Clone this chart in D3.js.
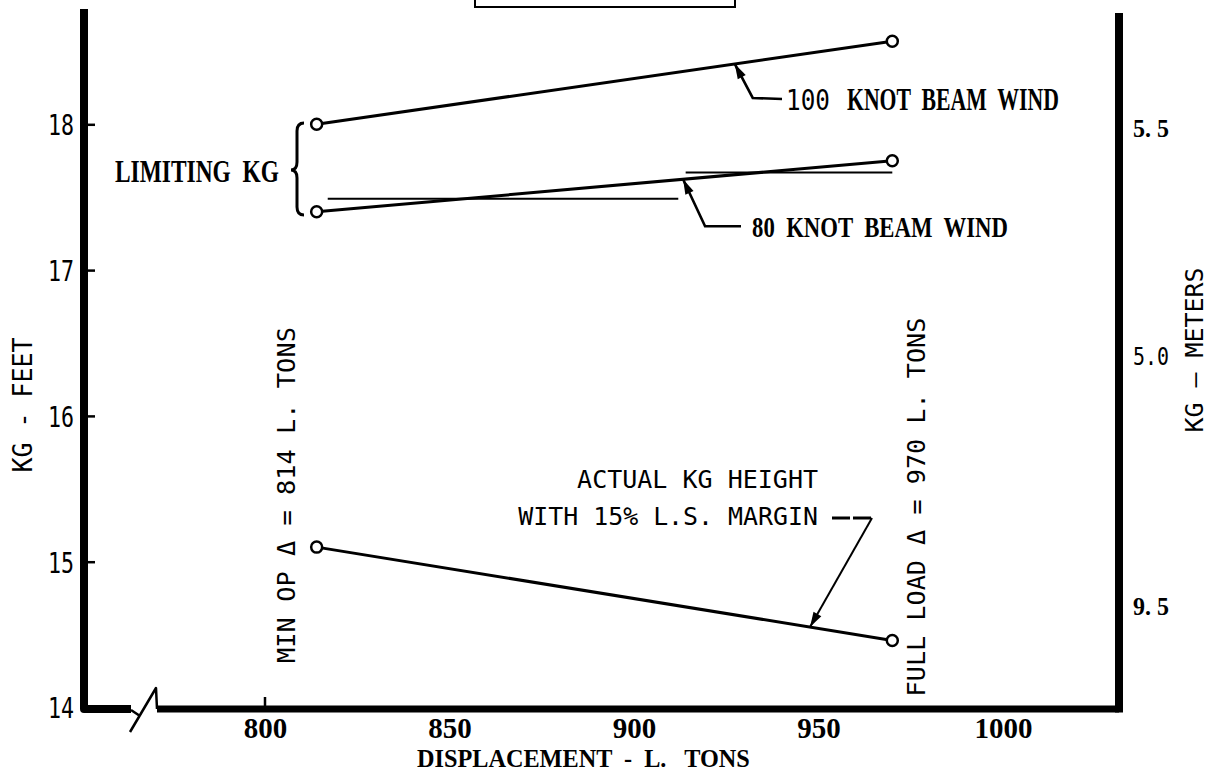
<!DOCTYPE html>
<html>
<head>
<meta charset="utf-8">
<script src="https://cdn.jsdelivr.net/npm/d3@7"></script>
<style>
  html, body { margin: 0; padding: 0; background: #fff; }
  svg { display: block; }
  text { fill: #000; }
</style>
</head>
<body>
<svg id="chart" width="1221" height="773"></svg>
<script>
// ---- values ----
const xTicks = [800, 850, 900, 950, 1000];
const xTickMarks = [800];
const yTicks = [14, 15, 16, 17, 18];
const meterTicks = [5.5, 5.0, 4.5];
const meterTickLabels = ["5. 5", "5.0", "9. 5"];

const displacement = [814, 970];          // L. tons
const kg100Knot = [18.0, 18.57];          // ft, limiting KG, 100 knot beam wind
const kg80Knot = [17.4, 17.75];           // ft, limiting KG, 80 knot beam wind
const kgActual = [15.1, 14.46];           // ft, actual KG with 15% L.S. margin

// thin level lines drawn under the 80 knot curve
const levelFrom = [817, 914];
const levelTo = [912, 970];
const levelKg = [17.49, 17.67];

// displacement where each leader arrow touches its curve
const leader100At = 927.3;
const leader80At = 913.3;
const leaderActualAt = 947.7;

const FT_PER_M = 3.2808;

// ---- layout ----
const frame = { left: 84, right: 1119, top: 9, rightTop: 13, bottom: 709 };
const MONO = "'DejaVu Sans Mono', 'Liberation Mono', monospace";
const SERIF = "'Liberation Serif', 'DejaVu Serif', serif";

const svg = d3.select("#chart");

const x = d3.scaleLinear().domain([800, 1000]).range([265, 1003]);
const y = d3.scaleLinear().domain([14, 18]).range([707.5, 124.3]);
const yM = d3.scaleLinear().domain([14 / FT_PER_M, 18 / FT_PER_M]).range(y.range());

// squeeze a text element horizontally to a given width (lettering is condensed)
function squeeze(node, len, base) {
  const w = node.getComputedTextLength();
  const sx = w > 0 ? len / w : 1;
  node.setAttribute("transform", `${base || ""} scale(${sx},1)`);
}

// title box, cut by the top edge
svg.append("rect")
  .attr("x", 475).attr("y", -20).attr("width", 260).attr("height", 27)
  .attr("fill", "none").attr("stroke", "#000").attr("stroke-width", 2);

// ---- left axis (feet) ----
const gLeft = svg.append("g")
  .attr("transform", `translate(${frame.left + 4},0)`)
  .call(d3.axisLeft(y).tickValues(yTicks).tickSize(-7).tickPadding(14).tickFormat(d3.format("d")));
gLeft.select(".domain").remove();
gLeft.selectAll(".tick line").attr("stroke", "#000").attr("stroke-width", 2.5);
gLeft.selectAll(".tick text")
  .attr("font-family", MONO).attr("font-size", 29)
  .attr("dy", "0.36em")
  .each(function () {
    const xx = +this.getAttribute("x");
    this.setAttribute("x", 0);
    squeeze(this, 26, `translate(${xx},0)`);
  });

// ---- bottom axis (displacement) ----
const gBottom = svg.append("g")
  .attr("transform", `translate(0,${frame.bottom})`)
  .call(d3.axisBottom(x).tickValues(xTicks).tickSize(0).tickFormat(d3.format("d")));
gBottom.select(".domain").remove();
gBottom.selectAll(".tick text")
  .attr("font-family", SERIF).attr("font-weight", "bold").attr("font-size", 29)
  .attr("y", 29).attr("dy", 0);

svg.selectAll(".xmark").data(xTickMarks).join("line")
  .attr("class", "xmark")
  .attr("x1", d => x(d)).attr("x2", d => x(d))
  .attr("y1", frame.bottom - 12).attr("y2", frame.bottom)
  .attr("stroke", "#000").attr("stroke-width", 2.5);

// ---- right axis (meters) ----
const gRight = svg.append("g")
  .attr("transform", `translate(${frame.right + 4},0)`)
  .call(d3.axisRight(yM).tickValues(meterTicks).tickSize(0).tickPadding(10)
    .tickFormat((d, i) => meterTickLabels[i]));
gRight.select(".domain").remove();
gRight.selectAll(".tick text")
  .attr("xml:space", "preserve")
  .attr("font-family", (d, i) => i === 1 ? MONO : SERIF)
  .attr("font-weight", (d, i) => i === 1 ? "normal" : "bold")
  .attr("font-size", (d, i) => i === 1 ? 24 : 26)
  .attr("dy", (d, i) => i === 1 ? "0.3em" : "0.72em")
  .each(function () {
    const xx = +this.getAttribute("x");
    this.setAttribute("x", 0);
    squeeze(this, 36, `translate(${xx},0)`);
  });

// ---- heavy frame ----
function frameLine(width, d) {
  return svg.append("path")
    .attr("d", d).attr("fill", "none").attr("stroke", "#000")
    .attr("stroke-width", width).attr("stroke-linejoin", "round");
}
frameLine(8, `M${frame.left},${frame.top} L${frame.left},${frame.bottom} L131,${frame.bottom}`);
frameLine(7, `M157,${frame.bottom} L${frame.right},${frame.bottom}`);
frameLine(8, `M${frame.right},${frame.rightTop} L${frame.right},${frame.bottom + 3.5}`);
// axis break
frameLine(2.5, `M131,${frame.bottom + 1} L140,716 M130,732 L156,688 L157,${frame.bottom}`);

// ---- level lines ----
svg.selectAll(".level").data(levelFrom).join("line")
  .attr("class", "level")
  .attr("x1", (d, i) => x(levelFrom[i])).attr("x2", (d, i) => x(levelTo[i]))
  .attr("y1", (d, i) => y(levelKg[i])).attr("y2", (d, i) => y(levelKg[i]))
  .attr("stroke", "#000").attr("stroke-width", 2);

// ---- curves ----
const seriesList = [kg100Knot, kg80Knot, kgActual];
const line = d3.line().x(d => x(d[0])).y(d => y(d[1]));
seriesList.forEach(vals => {
  const pts = displacement.map((d, i) => [d, vals[i]]);
  svg.append("path").datum(pts)
    .attr("d", line).attr("fill", "none")
    .attr("stroke", "#000").attr("stroke-width", 3);
  svg.selectAll(null).data(pts).join("circle")
    .attr("cx", d => x(d[0])).attr("cy", d => y(d[1])).attr("r", 5.5)
    .attr("fill", "#fff").attr("stroke", "#000").attr("stroke-width", 2.5);
});

function valueAt(vals, t) {
  const f = (t - displacement[0]) / (displacement[1] - displacement[0]);
  return vals[0] + f * (vals[1] - vals[0]);
}

function arrowHead(tip, from, len = 15, half = 4.5) {
  const dx = tip[0] - from[0], dy = tip[1] - from[1];
  const L = Math.hypot(dx, dy), ux = dx / L, uy = dy / L;
  const bx = tip[0] - ux * len, by = tip[1] - uy * len;
  svg.append("path")
    .attr("d", `M${tip[0]},${tip[1]} L${bx - uy * half},${by + ux * half} L${bx + uy * half},${by - ux * half} Z`)
    .attr("fill", "#000");
}

function leader(points, width) {
  svg.append("path")
    .attr("d", d3.line()(points))
    .attr("fill", "none").attr("stroke", "#000").attr("stroke-width", width)
    .attr("stroke-linejoin", "miter");
  arrowHead(points[0], points[1]);
}

// 100 knot leader
const t100 = [x(leader100At), y(valueAt(kg100Knot, leader100At))];
leader([t100, [t100[0] + 18, t100[1] + 34], [782, t100[1] + 35]], 2.6);

// 80 knot leader
const t80 = [x(leader80At), y(valueAt(kg80Knot, leader80At))];
leader([t80, [t80[0] + 22, t80[1] + 47], [741, t80[1] + 47]], 2.6);

// actual KG leader
const tAct = [x(leaderActualAt), y(valueAt(kgActual, leaderActualAt))];
leader([tAct, [872, 518]], 2);
svg.append("line").attr("x1", 832).attr("x2", 872).attr("y1", 518).attr("y2", 518)
  .attr("stroke", "#000").attr("stroke-width", 3).attr("stroke-dasharray", "18,3");

// ---- text ----
function txt(o) {
  const t = svg.append("text")
    .attr("x", 0).attr("y", 0)
    .attr("font-family", o.font || MONO)
    .attr("font-size", o.size || 25)
    .attr("font-weight", o.weight || "normal")
    .attr("text-anchor", o.anchor || "start")
    .attr("xml:space", "preserve")
    .text(o.text);
  if (o.rotate) t.attr("dy", "0.36em");
  const base = `translate(${o.x},${o.y})` + (o.rotate ? " rotate(-90)" : "");
  if (o.len) squeeze(t.node(), o.len, base);
  else t.attr("transform", base);
  return t;
}

txt({ text: "100", x: 786, y: 110, size: 29, len: 44 });
txt({ text: "KNOT  BEAM  WIND", x: 847, y: 110, font: SERIF, weight: "bold", size: 31, len: 212 });
txt({ text: "80  KNOT  BEAM  WIND", x: 752, y: 237, font: SERIF, weight: "bold", size: 29, len: 256 });
txt({ text: "LIMITING  KG", x: 115, y: 182, font: SERIF, weight: "bold", size: 31, len: 164 });

// brace for the limiting KG pair
svg.append("path")
  .attr("d", "M304,123 Q297,123 297,131 L297,162 Q297,170 291,170 Q297,170 297,178 L297,207 Q297,215 304,215")
  .attr("fill", "none").attr("stroke", "#000").attr("stroke-width", 3);

txt({ text: "ACTUAL KG HEIGHT", x: 818, y: 488, anchor: "end", size: 25, len: 241 });
txt({ text: "WITH 15% L.S. MARGIN", x: 818, y: 525, anchor: "end", size: 25, len: 300 });

txt({ text: "MIN OP \u0394 = 814 L. TONS", x: 286, y: 495, anchor: "middle", size: 25, len: 336, rotate: true });
txt({ text: "FULL LOAD \u0394 = 970 L. TONS", x: 916, y: 507, anchor: "middle", size: 25, len: 379, rotate: true });

txt({ text: "KG - FEET", x: 22, y: 405, anchor: "middle", size: 27, len: 135, rotate: true });
txt({ text: "KG \u2014 METERS", x: 1194, y: 350, anchor: "middle", size: 25, len: 165, rotate: true });

txt({ text: "DISPLACEMENT  -  L.   TONS", x: 417, y: 767, font: SERIF, weight: "bold", size: 26, len: 333 });
</script>
</body>
</html>
